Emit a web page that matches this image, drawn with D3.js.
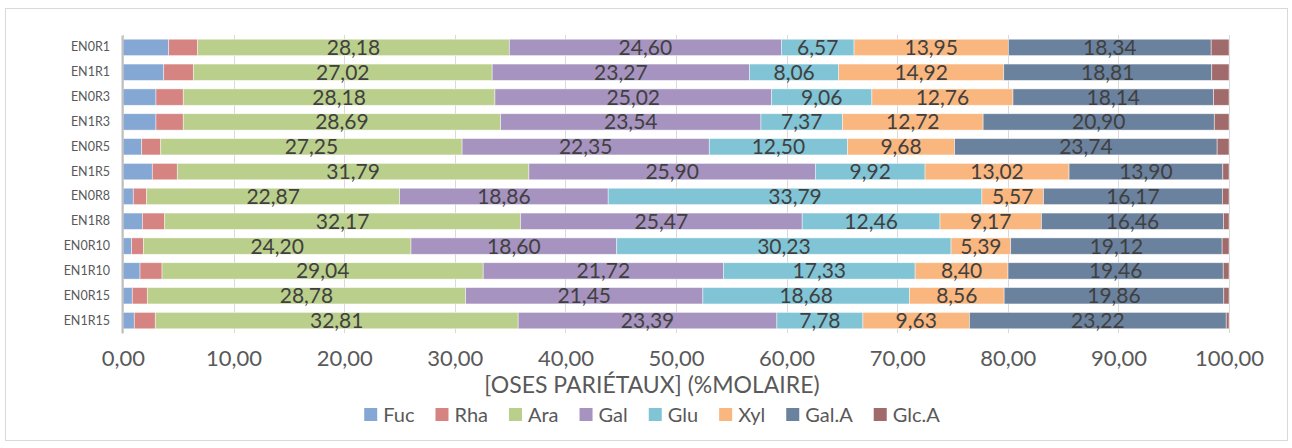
<!DOCTYPE html>
<html>
<head>
<meta charset="utf-8">
<script src="https://cdn.jsdelivr.net/npm/d3@7"></script>
<style>
  html, body { margin: 0; padding: 0; background: #fff; }
  svg { display: block; }
  text { font-family: Lato, "Open Sans", sans-serif; }
</style>
</head>
<body>
<svg id="chart" width="1292" height="448"></svg>
<script>
const categories = ["EN0R1","EN1R1","EN0R3","EN1R3","EN0R5","EN1R5","EN0R8","EN1R8","EN0R10","EN1R10","EN0R15","EN1R15"];
const seriesNames = ["Fuc","Rha","Ara","Gal","Glu","Xyl","Gal.A","Glc.A"];
const fuc  = [4.13, 3.68, 2.98, 2.98, 1.69, 2.65, 0.93, 1.75, 0.78, 1.54, 0.84, 1.02];
const rha  = [2.62, 2.68, 2.47, 2.47, 1.72, 2.26, 1.21, 2.02, 1.06, 1.99, 1.36, 1.90];
const ara  = [28.18, 27.02, 28.18, 28.69, 27.25, 31.79, 22.87, 32.17, 24.20, 29.04, 28.78, 32.81];
const gal  = [24.60, 23.27, 25.02, 23.54, 22.35, 25.90, 18.86, 25.47, 18.60, 21.72, 21.45, 23.39];
const glu  = [6.57, 8.06, 9.06, 7.37, 12.50, 9.92, 33.79, 12.46, 30.23, 17.33, 18.68, 7.78];
const xyl  = [13.95, 14.92, 12.76, 12.72, 9.68, 13.02, 5.57, 9.17, 5.39, 8.40, 8.56, 9.63];
const galA = [18.34, 18.81, 18.14, 20.90, 23.74, 13.90, 16.17, 16.46, 19.12, 19.46, 19.86, 23.22];
const glcA = [1.61, 1.56, 1.39, 1.33, 1.07, 0.56, 0.60, 0.50, 0.62, 0.52, 0.47, 0.25];
const labelledSeries = ["Ara","Gal","Glu","Xyl","Gal.A"];
const xTicks = [0,10,20,30,40,50,60,70,80,90,100];
const axisTitle = "[OSES PARIÉTAUX] (%MOLAIRE)";

const values = [fuc, rha, ara, gal, glu, xyl, galA, glcA];
const colors = ["#84a7d3","#d58482","#bacf8b","#a693bf","#80c4d6","#f9b67e","#6b829f","#a06b6a"];

const rows = categories.map((c, i) => {
  const r = {cat: c};
  seriesNames.forEach((s, j) => r[s] = values[j][i]);
  return r;
});
const stacked = d3.stack().keys(seriesNames)(rows);

const svg = d3.select("#chart");

// outer chart border
svg.append("rect").attr("x", 5.5).attr("y", 8.5).attr("width", 1282).attr("height", 432)
  .attr("fill", "#fff").attr("stroke", "#d9d9d9").attr("stroke-width", 1);

const x = d3.scaleLinear().domain([0, 100]).range([123, 1229]);
const y = d3.scaleBand().domain(categories).range([35, 333]).paddingInner(0.34).paddingOuter(0.17);

// gridlines
svg.append("g").selectAll("line").data(xTicks).join("line")
  .attr("x1", d => Math.round(x(d)) + 0.5).attr("x2", d => Math.round(x(d)) + 0.5)
  .attr("y1", 35).attr("y2", 333)
  .attr("stroke", "#d9d9d9").attr("stroke-width", 1);

// bars
const color = d3.scaleOrdinal().domain(seriesNames).range(colors);
const layers = svg.append("g").selectAll("g").data(stacked).join("g")
  .attr("fill", d => color(d.key));
layers.selectAll("rect").data(d => d).join("rect")
  .attr("x", d => x(d[0]))
  .attr("y", d => y(d.data.cat))
  .attr("width", d => x(d[1]) - x(d[0]))
  .attr("height", y.bandwidth())
  .attr("stroke", "rgba(255,255,255,0.6)").attr("stroke-width", 0.75);

// data labels
const fmt = v => d3.format(".2f")(v).replace(".", ",");
stacked.filter(s => labelledSeries.includes(s.key)).forEach(s => {
  svg.append("g").selectAll("text").data(s).join("text")
    .attr("x", d => (x(d[0]) + x(d[1])) / 2)
    .attr("y", d => y(d.data.cat) + y.bandwidth() / 2)
    .attr("dy", "0.36em")
    .attr("text-anchor", "middle")
    .attr("font-size", 21)
    .attr("fill", "#404040")
    .text(d => fmt(d.data[s.key]));
});

// y axis
const yAxis = d3.axisLeft(y).tickSize(0).tickPadding(12);
const gy = svg.append("g").attr("transform", "translate(122,0)").call(yAxis);
gy.select(".domain").attr("stroke", "#bfbfbf").attr("stroke-width", 2);
gy.selectAll("text").attr("font-family", "Lato, sans-serif").attr("font-size", 12.5).attr("fill", "#595959");

// x axis labels
const xAxis = d3.axisBottom(x).tickValues(xTicks).tickSize(0).tickPadding(0).tickFormat(fmt);
const gx = svg.append("g").attr("transform", "translate(0,350)").call(xAxis);
gx.select(".domain").remove();
gx.selectAll("text").attr("font-family", "Lato, sans-serif").attr("font-size", 22).attr("fill", "#595959")
  .attr("dy", "0.71em");

// axis title
svg.append("text").attr("x", 652).attr("y", 393).attr("text-anchor", "middle")
  .attr("font-size", 23).attr("fill", "#595959").text(axisTitle);

// legend
const legend = svg.append("g");
let cx = 0;
seriesNames.forEach((s, i) => {
  const g = legend.append("g");
  g.append("rect").attr("x", 0).attr("y", -14).attr("width", 13).attr("height", 13).attr("fill", colors[i]);
  const t = g.append("text").attr("x", 19).attr("y", 0).attr("font-size", 20).attr("fill", "#595959").text(s);
  const w = 19 + t.node().getComputedTextLength();
  g.attr("transform", `translate(${cx},0)`);
  cx += w + 21;
});
const legendW = cx - 21;
legend.attr("transform", `translate(${652 - legendW / 2},422)`);
</script>
</body>
</html>
